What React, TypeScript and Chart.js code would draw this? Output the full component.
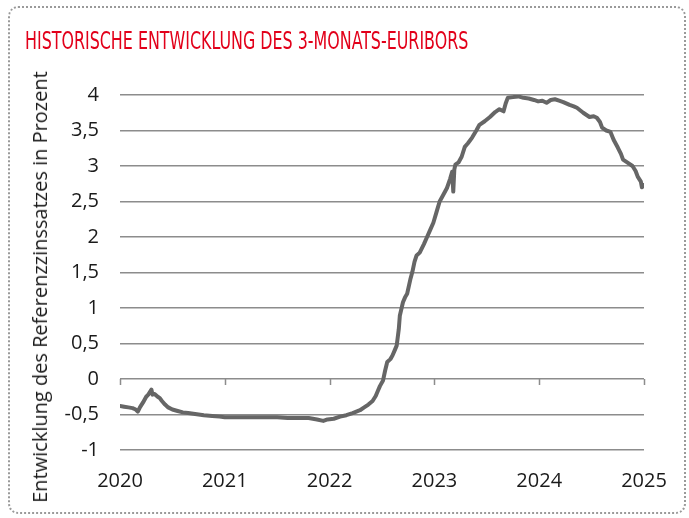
import React, { useEffect, useRef } from "react";
import { Chart, registerables } from "chart.js";

Chart.register(...registerables);

const TITLE = "HISTORISCHE ENTWICKLUNG DES 3-MONATS-EURIBORS";
const Y_TITLE = "Entwicklung des Referenzzinssatzes in Prozent";

const yearTicks = [2020, 2021, 2022, 2023, 2024, 2025];

// fractional year positions
const dates = [
  2020.0, 2020.04, 2020.08, 2020.12, 2020.15, 2020.17, 2020.19, 2020.22, 2020.25, 2020.27,
  2020.3, 2020.31, 2020.33, 2020.36, 2020.38, 2020.4, 2020.43, 2020.46, 2020.5, 2020.55,
  2020.6, 2020.65, 2020.7, 2020.75, 2020.8, 2020.88, 2020.95, 2021.0, 2021.1, 2021.2,
  2021.3, 2021.4, 2021.5, 2021.6, 2021.7, 2021.8, 2021.88, 2021.94, 2021.98, 2022.04,
  2022.1, 2022.16, 2022.22, 2022.29, 2022.33, 2022.37, 2022.41, 2022.44, 2022.46, 2022.48,
  2022.51, 2022.53, 2022.55, 2022.58, 2022.6, 2022.62, 2022.64, 2022.66, 2022.67, 2022.7,
  2022.72, 2022.74, 2022.77, 2022.79, 2022.81, 2022.83, 2022.86, 2022.9, 2022.93, 2022.96,
  2022.99, 2023.02, 2023.05, 2023.08, 2023.12, 2023.15, 2023.17, 2023.18, 2023.19, 2023.2,
  2023.23, 2023.26, 2023.29, 2023.32, 2023.36, 2023.4, 2023.43, 2023.48, 2023.53, 2023.58,
  2023.62, 2023.66, 2023.68, 2023.7, 2023.75, 2023.8, 2023.85, 2023.9, 2023.95, 2023.99,
  2024.03, 2024.07, 2024.11, 2024.15, 2024.19, 2024.23, 2024.29, 2024.33, 2024.36, 2024.42,
  2024.48, 2024.52, 2024.55, 2024.58, 2024.6, 2024.64, 2024.68, 2024.71, 2024.75, 2024.78,
  2024.8, 2024.85, 2024.89, 2024.92, 2024.94, 2024.97, 2024.98, 2025.0,
];

const euribor = [
  -0.38, -0.39, -0.4, -0.41, -0.43, -0.46, -0.4, -0.33, -0.25, -0.22,
  -0.15, -0.22, -0.21, -0.25, -0.27, -0.31, -0.36, -0.4, -0.43, -0.45,
  -0.47, -0.48, -0.49, -0.5, -0.51, -0.52, -0.53, -0.54, -0.54, -0.54,
  -0.54, -0.54, -0.54, -0.55, -0.55, -0.55, -0.57, -0.59, -0.57, -0.56,
  -0.53, -0.51, -0.48, -0.44, -0.4, -0.36, -0.31, -0.24, -0.17, -0.1,
  -0.02, 0.12, 0.24, 0.28, 0.33, 0.4, 0.47, 0.7, 0.89, 1.08,
  1.15, 1.2, 1.4, 1.51, 1.65, 1.74, 1.78, 1.9, 2.0, 2.1,
  2.2, 2.35, 2.5, 2.58, 2.69, 2.82, 2.92, 2.64, 2.95, 3.02,
  3.05, 3.13, 3.27, 3.32, 3.4, 3.5, 3.58, 3.63, 3.69, 3.76,
  3.8, 3.77, 3.88, 3.96, 3.97, 3.98, 3.96, 3.95, 3.93, 3.91,
  3.92, 3.89, 3.93, 3.94, 3.92, 3.9, 3.86, 3.84, 3.82, 3.75,
  3.69, 3.7, 3.68, 3.62, 3.54, 3.5, 3.48, 3.37, 3.26, 3.17,
  3.09, 3.04, 3.0, 2.93, 2.85, 2.78, 2.7, 2.73,
];

const TICK_FONT = '"Open Sans", "DejaVu Sans", sans-serif';

const zeroTicksPlugin = {
  id: "zeroTicks",
  beforeDatasetsDraw(chart: any) {
    const { ctx, scales } = chart;
    const x = scales.x;
    const y = scales.y;
    const y0 = y.getPixelForValue(0);
    ctx.save();
    ctx.strokeStyle = "#8c8c8c";
    ctx.lineWidth = 1.5;
    ctx.beginPath();
    for (const t of yearTicks) {
      const px = Math.round(x.getPixelForValue(t)) + 0.5;
      ctx.moveTo(px, y0);
      ctx.lineTo(px, y0 + 6);
    }
    ctx.stroke();
    ctx.restore();
  },
};

export default function App() {
  const ref = useRef<HTMLCanvasElement | null>(null);

  useEffect(() => {
    document.body.style.margin = "0";
    const canvas = ref.current;
    if (!canvas) return;
    const chart = new Chart(canvas, {
      type: "line",
      data: {
        datasets: [
          {
            data: dates.map((d, i) => ({ x: d, y: euribor[i] })),
            borderColor: "#666666",
            borderWidth: 4,
            pointRadius: 0,
            tension: 0,
            fill: false,
            borderJoinStyle: "round",
            borderCapStyle: "round",
          },
        ],
      },
      options: {
        animation: false,
        responsive: false,
        maintainAspectRatio: false,
        layout: { padding: { left: 0, top: 95, right: 45, bottom: 0 } },
        plugins: { legend: { display: false }, tooltip: { enabled: false }, title: { display: false } },
        scales: {
          x: {
            type: "linear",
            min: 2020,
            max: 2025,
            afterFit: (s: any) => {
              s.height = 68;
            },
            afterBuildTicks: (s: any) => {
              s.ticks = yearTicks.map((v) => ({ value: v }));
            },
            grid: { display: false, drawTicks: false },
            border: { display: false },
            ticks: {
              padding: 19,
              maxRotation: 0,
              color: "#1a1a1a",
              font: { family: TICK_FONT, size: 20 },
              callback: (v: any) => String(v),
            },
          },
          y: {
            min: -1,
            max: 4,
            afterFit: (s: any) => {
              s.width = 120;
            },
            ticks: {
              stepSize: 0.5,
              padding: 21,
              color: "#1a1a1a",
              font: { family: TICK_FONT, size: 20 },
              callback: (v: any) => String(v).replace(".", ","),
            },
            grid: { color: "#8c8c8c", lineWidth: 1.5, drawTicks: false },
            border: { display: false },
          },
        },
      },
      plugins: [zeroTicksPlugin],
    });
    return () => chart.destroy();
  }, []);

  return (
    <div style={{ position: "relative", width: 689, height: 518, background: "#fff", overflow: "hidden" }}>
      <div
        style={{
          position: "absolute",
          left: 8,
          top: 6,
          width: 674,
          height: 504,
          border: "2px dotted #9a9a9a",
          borderRadius: 10,
        }}
      />
      <canvas ref={ref} width={689} height={518} style={{ position: "absolute", left: 0, top: 0, width: 689, height: 518 }} />
      <div
        style={{
          position: "absolute",
          left: 25,
          top: 27,
          color: "#e2001a",
          fontFamily: '"Liberation Sans Narrow", "DejaVu Sans Condensed", sans-serif',
          fontSize: 24,
          whiteSpace: "nowrap",
          lineHeight: "28px",
          transform: "scaleX(0.736)",
          transformOrigin: "left center",
        }}
      >
        {TITLE}
      </div>
      <div
        style={{
          position: "absolute",
          left: 40,
          top: 287,
          transform: "translate(-50%, -50%) rotate(-90deg)",
          fontFamily: TICK_FONT,
          fontSize: 20,
          color: "#1a1a1a",
          whiteSpace: "nowrap",
          lineHeight: "22px",
        }}
      >
        {Y_TITLE}
      </div>
    </div>
  );
}
